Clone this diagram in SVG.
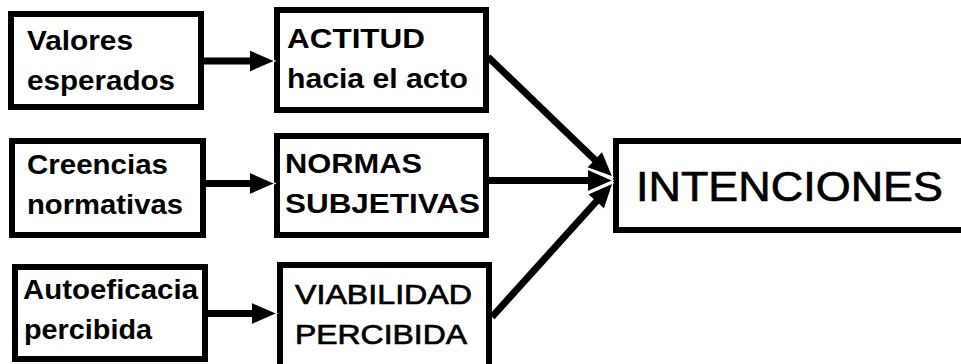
<svg xmlns="http://www.w3.org/2000/svg" width="961" height="364" viewBox="0 0 961 364">
<style>
.box{fill:#fff;stroke:#000;stroke-width:6}
.t{font-family:"Liberation Sans",Arial,sans-serif;font-size:28px;fill:#000}
.b{font-weight:bold}
.m{stroke:#000;stroke-width:0.7}
.big{font-size:42px}
.c{stroke:#000;stroke-width:7;fill:none}
</style>
<defs>
<marker id="ah" markerUnits="userSpaceOnUse" markerWidth="30" markerHeight="26" refX="10" refY="12" orient="auto" overflow="visible">
<polygon points="0,1 25,12 0,23" fill="#000"/>
<path d="M0,1 L25,12 L0,23" fill="none" stroke="#fff" stroke-width="1.2"/>
</marker>
</defs>
<rect width="961" height="364" fill="#fff"/>
<g id="n-valores">
<rect class="box" x="11" y="14" width="190" height="93"/>
<text class="t b" x="27" y="50" textLength="106" lengthAdjust="spacingAndGlyphs">Valores</text>
<text class="t b" x="27" y="90" textLength="148" lengthAdjust="spacingAndGlyphs">esperados</text>
</g>
<g id="n-actitud">
<rect class="box" x="277" y="10" width="209" height="100"/>
<text class="t b" x="287" y="48" textLength="138" lengthAdjust="spacingAndGlyphs">ACTITUD</text>
<text class="t b" x="287" y="88" textLength="181" lengthAdjust="spacingAndGlyphs">hacia el acto</text>
</g>
<g id="n-creencias">
<rect class="box" x="12" y="141" width="191" height="94"/>
<text class="t b" x="27" y="174" textLength="141" lengthAdjust="spacingAndGlyphs">Creencias</text>
<text class="t b" x="27" y="214" textLength="156" lengthAdjust="spacingAndGlyphs">normativas</text>
</g>
<g id="n-normas">
<rect class="box" x="277" y="136" width="209" height="99"/>
<text class="t b" x="285" y="173" textLength="137" lengthAdjust="spacingAndGlyphs">NORMAS</text>
<text class="t b" x="285" y="213" textLength="195" lengthAdjust="spacingAndGlyphs">SUBJETIVAS</text>
</g>
<g id="n-autoeficacia">
<rect class="box" x="15" y="267" width="190" height="92"/>
<text class="t b" x="23" y="299" textLength="175" lengthAdjust="spacingAndGlyphs">Autoeficacia</text>
<text class="t b" x="24" y="339" textLength="128" lengthAdjust="spacingAndGlyphs">percibida</text>
</g>
<g id="n-viabilidad">
<rect class="box" x="280" y="265" width="209" height="110"/>
<text class="t m" x="295" y="304" textLength="177" lengthAdjust="spacingAndGlyphs">VIABILIDAD</text>
<text class="t m" x="295" y="344" textLength="172" lengthAdjust="spacingAndGlyphs">PERCIBIDA</text>
</g>
<g id="n-intenciones">
<rect class="box" x="616" y="141" width="360" height="89"/>
<text class="t big m" x="636" y="201" textLength="307" lengthAdjust="spacingAndGlyphs">INTENCIONES</text>
</g>
<g id="connectors">
<line class="c" x1="204" y1="61" x2="260" y2="61" marker-end="url(#ah)"/>
<line class="c" x1="206" y1="183.5" x2="260" y2="183.5" marker-end="url(#ah)"/>
<line class="c" x1="208" y1="313.5" x2="262" y2="313.5" marker-end="url(#ah)"/>
<line class="c" x1="488" y1="57" x2="602.1" y2="166.7" marker-end="url(#ah)"/>
<line class="c" x1="489" y1="180.5" x2="598" y2="180.5" marker-end="url(#ah)"/>
<line class="c" x1="492" y1="317" x2="603" y2="194" marker-end="url(#ah)"/>
</g>
</svg>
